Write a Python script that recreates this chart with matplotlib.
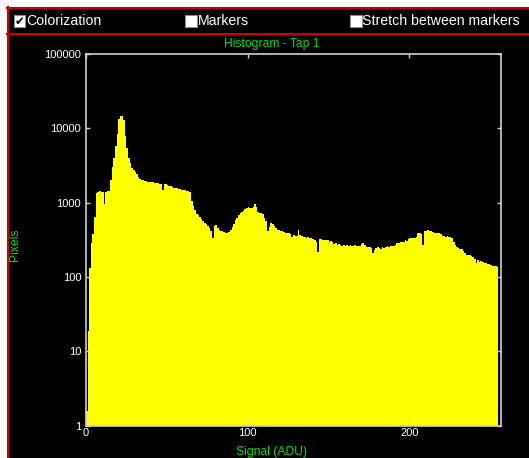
import matplotlib
matplotlib.use('Agg')
import matplotlib.pyplot as plt
import numpy as np
from matplotlib.patches import Rectangle
from matplotlib.ticker import NullLocator

plt.rcParams['font.family'] = ['Liberation Sans', 'DejaVu Sans']

# pixel counts per signal level (1 ADU bins starting at 0)
pixel_counts = [
    1.6, 19, 133, 290, 380, 650, 1350, 1400, 1420, 1400,
    1380, 960, 1400, 1420, 1450, 2000, 3000, 4000, 5700, 8500,
    13500, 14500, 14500, 13000, 7800, 5500, 4000, 3400, 2900, 2750,
    2600, 2450, 2200, 2100, 2050, 2000, 1980, 1950, 1920, 1900,
    1880, 1870, 1850, 1840, 1820, 1800, 1790, 1500, 1780, 1760,
    1740, 1700, 1660, 1640, 1600, 1580, 1560, 1540, 1520, 1500,
    1480, 1460, 1440, 1420, 1400, 1050, 900, 800, 700, 680,
    640, 600, 560, 540, 520, 480, 450, 420, 335, 480,
    500, 450, 430, 420, 410, 400, 395, 390, 400, 430,
    470, 520, 580, 620, 680, 720, 750, 780, 820, 860,
    880, 850, 840, 880, 960, 870, 760, 720, 730, 700,
    620, 560, 410, 470, 530, 520, 480, 450, 430, 430,
    420, 410, 400, 395, 390, 385, 380, 350, 370, 360,
    355, 430, 370, 355, 350, 345, 340, 345, 335, 330,
    320, 310, 300, 220, 320, 320, 315, 310, 315, 310,
    300, 305, 300, 280, 285, 270, 275, 270, 265, 270,
    265, 270, 265, 270, 265, 260, 270, 265, 260, 265,
    280, 290, 270, 257, 255, 250, 245, 210, 230, 245,
    250, 245, 240, 250, 245, 255, 260, 255, 260, 265,
    260, 270, 285, 290, 295, 300, 300, 310, 305, 320,
    330, 335, 330, 340, 350, 385, 390, 380, 270, 410,
    420, 430, 420, 410, 400, 390, 395, 385, 390, 380,
    360, 355, 350, 355, 345, 350, 340, 300, 270, 250,
    245, 240, 235, 225, 210, 200, 198, 195, 190, 185,
    175, 155, 170, 160, 165, 158, 156, 155, 152, 150,
    145, 142, 140, 140, 138,
]

x_ticks = [0, 100, 200]
y_ticks = [1, 10, 100, 1000, 10000, 100000]
y_tick_labels = ['1', '10', '100', '1000', '10000', '100000']

title = 'Histogram - Tap 1'
x_label = 'Signal (ADU)'
y_label = 'Pixels'
checkbox_labels = ['Colorization', 'Markers', 'Stretch between markers']
checkbox_checked = [True, False, False]

W, H = 529, 458
green = '#00e000'
red = '#d00000'
spine_col = '#d0d0d0'

fig = plt.figure(figsize=(W / 100, H / 100), dpi=100, facecolor='black')

# window frame and checkbox bar, drawn in pixel coordinates
bg = fig.add_axes([0, 0, 1, 1])
bg.set_xlim(0, W)
bg.set_ylim(H, 0)
bg.axis('off')
bg.add_patch(Rectangle((0, 0), W, 7, color='white', lw=0))
bg.add_patch(Rectangle((0, 0), 7, H, color='white', lw=0))
bg.plot([7, W], [7.8, 7.8], color=red, lw=1.5, clip_on=False)
bg.plot([7.8, 7.8], [7, H], color=red, lw=1.5, clip_on=False)
bg.plot([7, W], [34.2, 34.2], color=red, lw=1.5, clip_on=False)

box_x = [13.5, 185, 350]
for bx, label, checked in zip(box_x, checkbox_labels, checkbox_checked):
    bg.add_patch(Rectangle((bx, 15), 11.5, 11.5, facecolor='white',
                           edgecolor='#909090', lw=0.8))
    if checked:
        bg.text(bx + 5.9, 21, '\u2714', color='black', fontsize=8.5,
                ha='center', va='center', family='DejaVu Sans')
    bg.text(bx + 12.5, 21, label, color='white', fontsize=10.2,
            ha='left', va='center')

bg.text(272, 43.5, title, color=green, fontsize=8.7, ha='center', va='center')
bg.text(271, 451.5, x_label, color=green, fontsize=8.7, ha='center', va='center')
bg.text(15, 245, y_label, color=green, fontsize=8.7, ha='center', va='center',
        rotation=90)

# histogram axes
ax = fig.add_axes([86 / W, 1 - 425.7 / H, (500.7 - 86) / W, (425.7 - 54) / H])
ax.set_facecolor('black')
ax.stairs(pixel_counts, np.arange(len(pixel_counts) + 1), fill=True,
          color='#ffff00', baseline=0.1)
ax.set_yscale('log')
ax.set_ylim(1, 100000)
ax.set_xlim(0, 256.5)
ax.set_xticks(x_ticks)
ax.set_yticks(y_ticks)
ax.set_yticklabels(y_tick_labels)
ax.yaxis.set_minor_locator(NullLocator())
ax.xaxis.set_minor_locator(NullLocator())
for sp in ax.spines.values():
    sp.set_color(spine_col)
    sp.set_linewidth(1.2)
ax.tick_params(direction='in', length=3, width=1, color=spine_col,
               labelcolor='white', labelsize=8, top=True, right=True)
ax.tick_params(axis='y', pad=3.5)
ax.tick_params(axis='x', pad=1.5)

fig.savefig('out.png', dpi=100, facecolor='black')
